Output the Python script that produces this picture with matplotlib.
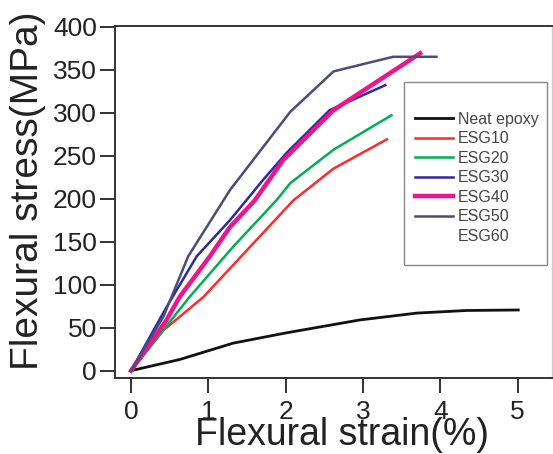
import matplotlib
matplotlib.use("Agg")
import matplotlib.pyplot as plt
from matplotlib.patches import Rectangle

plt.rcParams['font.family'] = ['Liberation Sans', 'DejaVu Sans']

neat_x = [0, 0.63, 1.32, 2.01, 2.96, 3.70, 4.34, 5.01]
neat_y = [0, 13, 32, 44, 59, 67, 70, 70.6]
esg10_x = [0, 0.42, 0.94, 1.54, 2.10, 2.62, 3.31]
esg10_y = [0, 47, 86, 144, 198, 235, 269]
esg20_x = [0, 0.76, 1.32, 1.88, 2.06, 2.62, 3.37]
esg20_y = [0, 86, 144, 198, 218, 257, 297]
esg30_x = [0, 0.46, 0.85, 1.28, 1.71, 2.01, 2.57, 3.29]
esg30_y = [0, 74, 133, 175, 222, 253, 303, 332]
esg40_x = [0, 0.46, 0.63, 1.02, 1.28, 1.60, 1.97, 2.62, 3.74]
esg40_y = [0, 59, 86, 133, 167, 198, 245, 303, 369]
esg50_x = [0, 0.42, 0.74, 1.28, 2.06, 2.62, 3.39, 3.95]
esg50_y = [0, 63, 133, 210, 301, 348, 365, 365]

labels = ['Neat epoxy', 'ESG10', 'ESG20', 'ESG30', 'ESG40', 'ESG50', 'ESG60']
x_ticks = [0, 1, 2, 3, 4, 5]
y_ticks = [0, 50, 100, 150, 200, 250, 300, 350, 400]

W, H = 553, 454
fig = plt.figure(figsize=(W/100, H/100), dpi=100)
ax = fig.add_axes([115/W, 1-378/H, (552-115)/W, (378-26)/H])

ax.plot(neat_x, neat_y, color='#111111', lw=2.0, label=labels[0])
ax.plot(esg10_x, esg10_y, color='#ff2a2a', lw=1.8, label=labels[1])
ax.plot(esg20_x, esg20_y, color='#00b050', lw=1.8, label=labels[2])
ax.plot(esg30_x, esg30_y, color='#2b2ba0', lw=1.8, label=labels[3])
ax.plot(esg40_x, esg40_y, color='#f0148c', lw=3.2, label=labels[4])
ax.plot(esg50_x, esg50_y, color='#4b4b7d', lw=1.8, label=labels[5])
ax.plot([], [], color='none', label=labels[6])

ax.set_xlim(-0.207, 5.446)
ax.set_ylim(-8.5, 400.8)
ax.set_xticks(x_ticks)
ax.set_yticks(y_ticks)
ax.tick_params(axis='x', direction='out', length=10.5, width=1.3, labelsize=19, pad=5, color='#222222', labelcolor='#222222')
ax.tick_params(axis='y', direction='out', length=11, width=1.3, labelsize=19, pad=2, color='#222222', labelcolor='#222222')
for s in ['left', 'bottom', 'top']:
    ax.spines[s].set_color('#333333')
    ax.spines[s].set_linewidth(1.4)
ax.spines['right'].set_color('#cccccc')
ax.spines['right'].set_linewidth(1.0)

ax.set_xlabel('Flexural strain(%)', fontsize=27, color='#222222')
ax.set_ylabel('Flexural stress(MPa)', fontsize=28, color='#222222')
ax.xaxis.set_label_coords(0.519, -0.11)
ax.yaxis.set_label_coords(-0.158, 0.531)

fig.patches.append(Rectangle((404/W, 1-265/H), (547-404)/W, (265-82)/H,
                             transform=fig.transFigure, fill=False,
                             edgecolor='#888888', lw=1.0))
leg = ax.legend(loc='upper left', bbox_to_anchor=(415/W, 1-112/H),
                bbox_transform=fig.transFigure, frameon=False, fontsize=11.5,
                handlelength=2.4, handletextpad=0.3, labelspacing=0.28,
                borderpad=0, borderaxespad=0)
for t in leg.get_texts():
    t.set_color('#444444')

fig.savefig('out.png', dpi=100)
